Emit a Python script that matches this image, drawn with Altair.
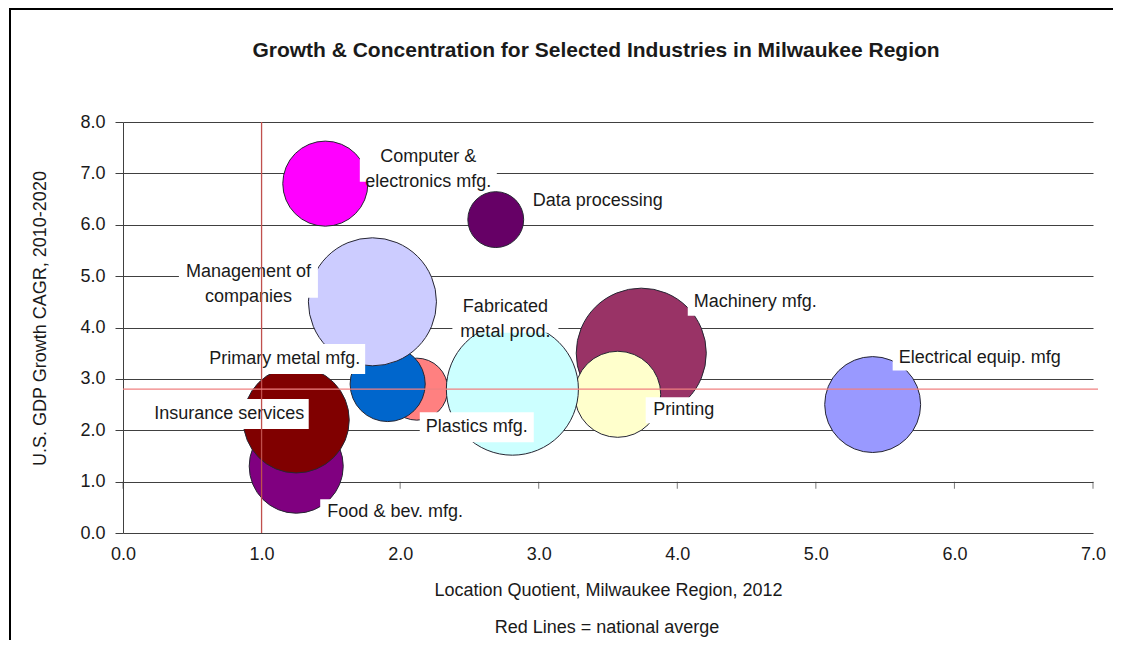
import altair as alt
import pandas as pd

# ---------------- data ----------------
industries = [
    "Food & bev. mfg.", "Insurance services", "Plastics mfg.", "Primary metal mfg.",
    "Management of companies", "Machinery mfg.", "Printing", "Fabricated metal prod.",
    "Computer & electronics mfg.", "Data processing", "Electrical equip. mfg",
]
label_text = [
    "Food & bev. mfg.", "Insurance services", "Plastics mfg.", "Primary metal mfg.",
    "Management of\ncompanies", "Machinery mfg.", "Printing", "Fabricated\nmetal prod.",
    "Computer &\nelectronics mfg.", "Data processing", "Electrical equip. mfg",
]
location_quotient = [1.25, 1.25, 2.12, 1.91, 1.80, 3.74, 3.57, 2.81, 1.46, 2.69, 5.41]
gdp_growth_cagr = [1.3, 2.2, 2.8, 2.9, 4.5, 3.5, 2.7, 2.8, 6.8, 6.1, 2.5]
bubble_size = [22.1, 28.1, 9.6, 14.1, 41.0, 42.3, 18.5, 43.6, 18.1, 7.8, 23.0]

national_avg_lq = [1.0]
national_avg_growth = [2.8]

x_ticks = [0, 1, 2, 3, 4, 5, 6, 7]
y_ticks = [0, 1, 2, 3, 4, 5, 6, 7, 8]

title_text = "Growth & Concentration for Selected Industries in Milwaukee Region"
x_title = "Location Quotient, Milwaukee Region, 2012"
y_title = "U.S. GDP Growth CAGR, 2010-2020"
footnote = "Red Lines = national averge"

# ---------------- styles ----------------
colors = ["#800080", "#800000", "#FF8080", "#0066CC", "#CCCCFF", "#993366",
          "#FFFFCC", "#CCFFFF", "#FF00FF", "#660066", "#9999FF"]
label_dx = [99, -67, 60, -103, -124, 114, 66, -7, 103, 102, 107]
label_dy = [46, -6, 38, -25, -30, -51, 16, -82, -27, -19, -47]
box_w = [150, 159, 114, 161, 139, 135, 76, 106, 137, 141, 174]
box_h = [26, 30, 30, 30, 52, 27, 26, 51, 50, 26, 26]

W, H = 970, 411
FONT = "Liberation Sans, Arial, sans-serif"
GRID = "#404040"
TXT = "#1a1a1a"

df = pd.DataFrame({
    "industry": industries,
    "label": label_text,
    "lq": location_quotient,
    "gdp": gdp_growth_cagr,
    "size": bubble_size,
})
df["order"] = list(range(len(df)))

xscale = alt.Scale(domain=[0, 7], nice=False, zero=True)
yscale = alt.Scale(domain=[0, 8], nice=False, zero=True)

x_enc = alt.X(
    "lq:Q", scale=xscale, title=x_title,
    axis=alt.Axis(
        values=x_ticks, format=".1f", grid=False, domain=False, ticks=False,
        labelPadding=12, labelFontSize=18, labelFont=FONT, labelColor=TXT, labelFlush=False,
        labelOverlap=False, titleFontSize=18, titleFont=FONT, titleFontWeight="normal",
        titleColor=TXT, titleY=57, titleBaseline="middle",
    ),
)
y_enc = alt.Y(
    "gdp:Q", scale=yscale, title=y_title,
    axis=alt.Axis(
        values=y_ticks, format=".1f", grid=True, gridColor=GRID, gridWidth=1,
        gridOpacity=1, domain=True, domainColor=GRID, ticks=True, tickSize=8, tickColor=GRID,
        labelPadding=10, labelFontSize=18, labelFont=FONT, labelColor=TXT, labelFlush=False,
        titleFontSize=18, titleFont=FONT, titleFontWeight="normal", titleColor=TXT,
        titleX=-83, titleY=196, titleAngle=-90, titleAlign="center", titleBaseline="middle",
    ),
)

base = alt.Chart(df)

bubbles = base.mark_circle(opacity=1, stroke="#262633", strokeWidth=1).encode(
    x=x_enc,
    y=y_enc,
    size=alt.Size("size:Q", scale=alt.Scale(domain=[0, 50], range=[0, 20000]), legend=None),
    color=alt.Color("industry:N", scale=alt.Scale(domain=industries, range=colors), legend=None),
    order=alt.Order("order:Q"),
)

# x-axis tick marks sit on the 1.0 line (axis crossing)
tick_df = pd.DataFrame({"lq": x_ticks})
xticks = alt.Chart(tick_df).mark_tick(
    orient="vertical", size=7, thickness=1, color=GRID, yOffset=3.5
).encode(x=alt.X("lq:Q", scale=xscale), y=alt.datum(1.0))

layers = [bubbles, xticks]

for i, name in enumerate(industries):
    sub = base.transform_filter(alt.datum.industry == name)
    dx, dy, w, h = label_dx[i], label_dy[i], box_w[i], box_h[i]
    box = sub.mark_rect(
        fill="white", xOffset=dx - w / 2, x2Offset=dx + w / 2,
        yOffset=dy - h / 2, y2Offset=dy + h / 2,
    ).encode(
        x=alt.X("lq:Q", scale=xscale), x2="lq:Q",
        y=alt.Y("gdp:Q", scale=yscale), y2="gdp:Q",
    )
    txt = sub.mark_text(
        dx=dx, dy=dy, fontSize=18, font=FONT, color=TXT, align="center",
        baseline="middle", lineBreak="\n", lineHeight=25,
    ).encode(
        x=alt.X("lq:Q", scale=xscale),
        y=alt.Y("gdp:Q", scale=yscale),
        text="label:N",
    )
    layers += [box, txt]

vline = alt.Chart(pd.DataFrame({"lq": national_avg_lq})).mark_rule(
    color="#C0504D", strokeWidth=1.3
).encode(x=alt.X("lq:Q", scale=xscale), y=alt.value(0), y2=alt.value(H))

hline = alt.Chart(pd.DataFrame({"gdp": national_avg_growth})).mark_rule(
    color="#F08080", strokeWidth=1.2
).encode(y=alt.Y("gdp:Q", scale=yscale), x=alt.value(0), x2=alt.value(W + 5))

one = pd.DataFrame({"t": [title_text], "f": [footnote]})
title = alt.Chart(one).mark_text(
    fontSize=21, fontWeight="bold", font=FONT, color=TXT, align="center", baseline="alphabetic"
).encode(x=alt.value(473), y=alt.value(-65), text="t:N")

foot = alt.Chart(one).mark_text(
    fontSize=18, font=FONT, color=TXT, align="center", baseline="alphabetic"
).encode(x=alt.value(484), y=alt.value(511), text="f:N")

frame_top = alt.Chart(one).mark_rule(color="black", strokeWidth=2).encode(
    x=alt.value(-113), x2=alt.value(W + 25), y=alt.value(-113)
)
frame_left = alt.Chart(one).mark_rule(color="black", strokeWidth=2).encode(
    x=alt.value(-113), y=alt.value(-114), y2=alt.value(H + 110)
)

layers += [vline, hline, title, foot, frame_top, frame_left]

chart = alt.layer(*layers).properties(
    width=W, height=H,
    autosize=alt.AutoSizeParams(type="none"),
    padding={"left": 115, "top": 114, "right": 20, "bottom": 107},
    background="white",
).configure(font=FONT).configure_view(stroke=None)

chart.save("out.html", embed_options={"renderer": "svg", "actions": False})
